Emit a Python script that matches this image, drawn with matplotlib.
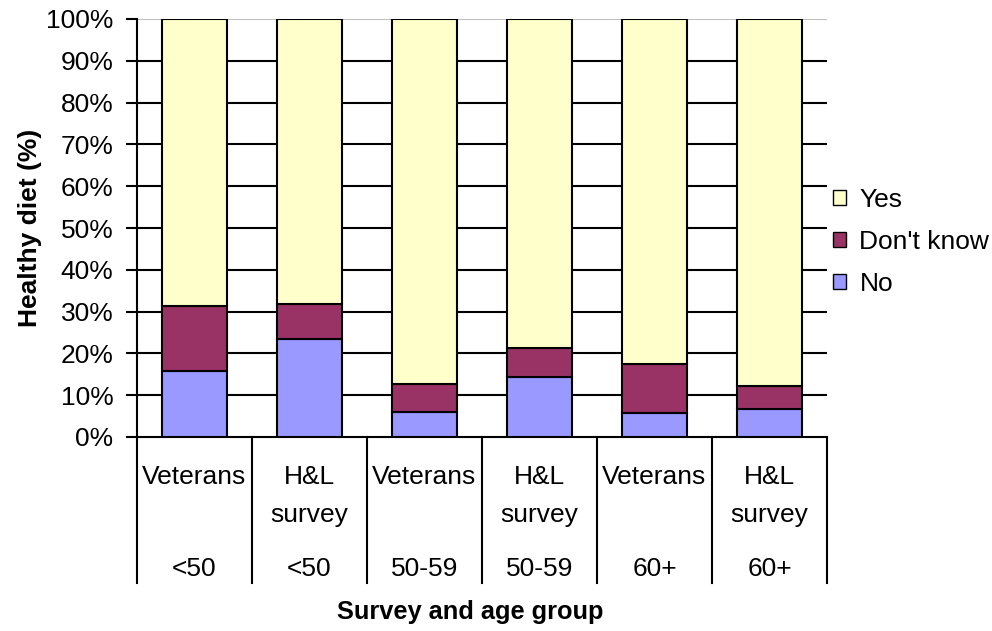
import matplotlib
matplotlib.use("Agg")
import matplotlib.pyplot as plt
import numpy as np
from matplotlib.patches import Patch

plt.rcParams['font.family'] = ['Liberation Sans', 'DejaVu Sans']

surveys = ["Veterans", "H&L\nsurvey", "Veterans", "H&L\nsurvey", "Veterans", "H&L\nsurvey"]
ages = ["<50", "<50", "50-59", "50-59", "60+", "60+"]
no_vals = [15.9, 23.5, 6.1, 14.4, 5.7, 6.6]
dk_vals = [15.5, 8.3, 6.6, 7.0, 11.8, 5.7]
yes_vals = [100 - a - b for a, b in zip(no_vals, dk_vals)]
yticks = list(range(0, 101, 10))

FS = 19
W, H = 992, 631
fig = plt.figure(figsize=(W / 100, H / 100), dpi=100)
L, R, T, B = 137, 827, 19, 437
ax = fig.add_axes([L / W, 1 - B / H, (R - L) / W, (B - T) / H])

def py(p):
    # pixel row -> data y
    return -(p - B) / (B - T) * 100

x = np.arange(len(surveys))
bw = 0.57
c_no, c_dk, c_yes = "#9999FF", "#993366", "#FFFFCC"
ax.bar(x, no_vals, bw, color=c_no, edgecolor="black", linewidth=1.5, zorder=3, label="No")
ax.bar(x, dk_vals, bw, bottom=no_vals, color=c_dk, edgecolor="black", linewidth=1.5, zorder=3, label="Don't know")
ax.bar(x, yes_vals, bw, bottom=np.array(no_vals) + np.array(dk_vals), color=c_yes,
       edgecolor="black", linewidth=1.5, zorder=3, label="Yes")

ax.set_xlim(-0.5, len(surveys) - 0.5)
ax.set_ylim(0, 100)
ax.set_yticks(yticks)
ax.set_yticklabels([f"{t}%" for t in yticks], fontsize=FS)
for t in yticks[1:-1]:
    ax.axhline(t, color="black", linewidth=1.5, zorder=1)
ax.axhline(100, color="#C0C0C0", linewidth=1.5, zorder=1)
ax.set_xticks([])
for s in ["top", "right"]:
    ax.spines[s].set_visible(False)
ax.spines["left"].set_linewidth(1.5)
ax.spines["bottom"].set_linewidth(1.5)
ax.tick_params(axis="y", length=8, width=1.5, direction="out", pad=9)

# multi-level category labels
for i in range(len(surveys) + 1):
    ax.plot([i - 0.5, i - 0.5], [0, py(583)], color="black", linewidth=1.5, clip_on=False, zorder=4)
for i, (s, a) in enumerate(zip(surveys, ages)):
    for j, line in enumerate(s.split("\n")):
        ax.text(i, py(477 + 38 * j), line, ha="center", va="center", fontsize=FS, clip_on=False)
    ax.text(i, py(569), a, ha="center", va="center", fontsize=FS, clip_on=False)

fig.text(470 / W, 1 - 612 / H, "Survey and age group", ha="center", va="center",
         fontsize=18.3, fontweight="bold")
fig.text(30 / W, 1 - 228 / H, "Healthy diet (%)", ha="center", va="center",
         fontsize=FS, fontweight="bold", rotation=90)

handles = [Patch(facecolor=c_yes, edgecolor="black", label="Yes"),
           Patch(facecolor=c_dk, edgecolor="black", label="Don't know"),
           Patch(facecolor=c_no, edgecolor="black", label="No")]
fig.legend(handles=handles, loc="center left", bbox_to_anchor=(833 / W, 1 - 242 / H),
           frameon=False, fontsize=FS, handlelength=0.5, handleheight=0.5,
           handletextpad=0.5, labelspacing=0.68, borderpad=0, borderaxespad=0)

fig.savefig("out.png", dpi=100)
